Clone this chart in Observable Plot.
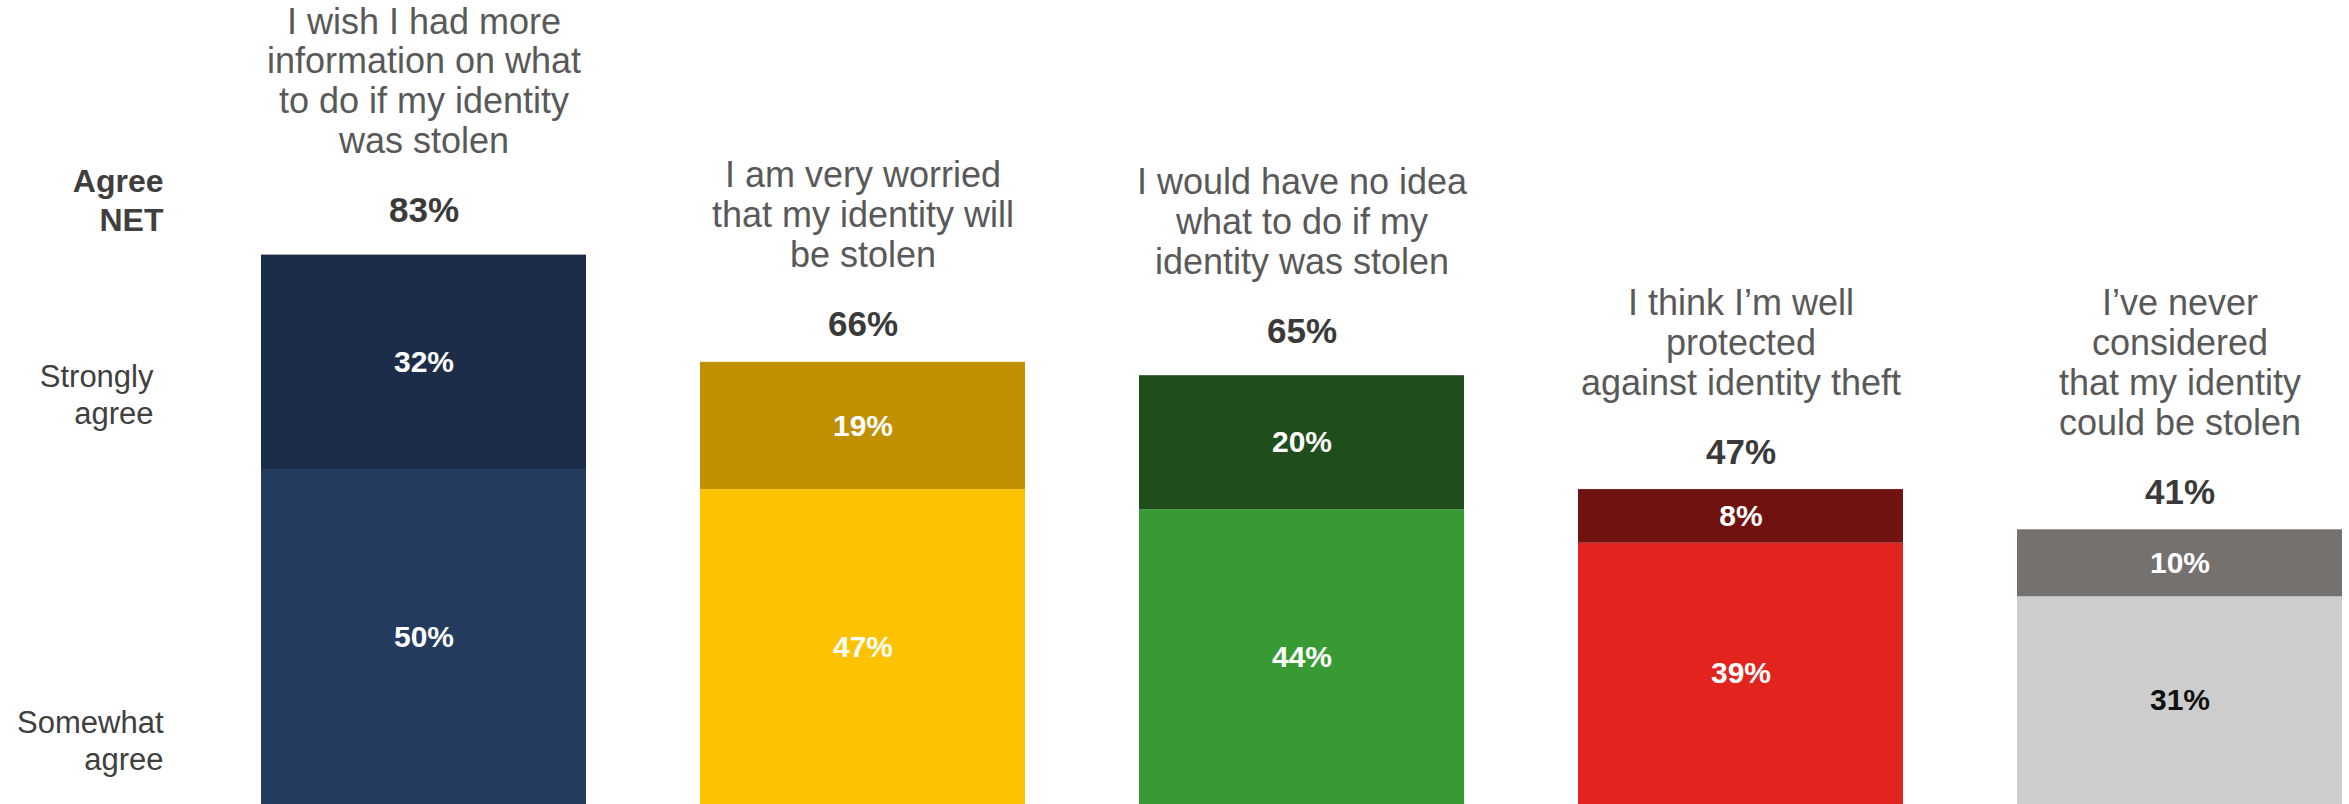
<!DOCTYPE html>
<html>
<head>
<meta charset="utf-8">
<script src="https://cdn.jsdelivr.net/npm/d3@7"></script>
<script src="https://cdn.jsdelivr.net/npm/@observablehq/plot@0.6"></script>
<style>
  html, body { margin: 0; padding: 0; background: #ffffff; }
  #chart svg { display: block; }
</style>
</head>
<body>
<div id="chart"></div>
<script>
// ---- Data ----
const categories = [
  "I wish I had more\ninformation on what\nto do if my identity\nwas stolen",
  "I am very worried\nthat my identity will\nbe stolen",
  "I would have no idea\nwhat to do if my\nidentity was stolen",
  "I think I\u2019m well\nprotected\nagainst identity theft",
  "I\u2019ve never\nconsidered\nthat my identity\ncould be stolen"
];
const stronglyAgree = [32, 19, 20, 8, 10];
const somewhatAgree = [50, 47, 44, 39, 31];
const agreeNet = [83, 66, 65, 47, 41];
const segments = ["Somewhat agree", "Strongly agree"];
const rowLabels = ["Agree\nNET", "Strongly\nagree", "Somewhat\nagree"];

// ---- Palette ----
const darkColors = ["#1c2d4a", "#c09000", "#1f4d1c", "#70120f", "#75716f"];
const lightColors = ["#223b5f", "#fdc300", "#389a33", "#e3241e", "#cecdce"];

const rows = categories.flatMap((c, i) => [
  {cat: c, i, seg: segments[0], value: somewhatAgree[i]},
  {cat: c, i, seg: segments[1], value: stronglyAgree[i]}
]);
const tops = categories.map((c, i) => ({cat: c, i, net: agreeNet[i]}));

const chart = Plot.plot({
  width: 2349,
  height: 804,
  marginTop: 134,
  marginBottom: 0,
  marginLeft: 259,
  marginRight: 6,
  style: {fontFamily: "'Liberation Sans', Arial, sans-serif", background: "#ffffff", overflow: "visible"},
  x: {domain: categories, paddingInner: 0.26, paddingOuter: 0, axis: null},
  y: {domain: [0, 100], axis: null},
  color: {type: "identity"},
  marks: [
    Plot.barY(rows, Plot.stackY({
      x: "cat", y: "value", z: "seg", order: segments,
      fill: d => (d.seg === segments[1] ? darkColors : lightColors)[d.i]
    })),
    Plot.text(rows, Plot.stackY({
      x: "cat", y: "value", z: "seg", order: segments,
      text: d => d.value + "%",
      fill: d => (d.i === 4 && d.seg === segments[0]) ? "#111111" : "#ffffff",
      fontSize: 30, fontWeight: "bold"
    })),
    Plot.text(tops, {
      x: "cat", y: "net", text: d => d.net + "%",
      lineAnchor: "bottom", dy: -26,
      fontSize: 35, fontWeight: "bold", fill: "#3a3a3a"
    }),
    Plot.text(tops, {
      x: "cat", y: "net", text: "cat",
      lineAnchor: "bottom", dy: -95, lineHeight: 1.11,
      fontSize: 36, fill: "#595959"
    }),
    Plot.text([rowLabels[0]], {
      frameAnchor: "top-left", text: d => d, textAnchor: "end",
      lineAnchor: "bottom", dx: -96, dy: 96, lineHeight: 1.19,
      fontSize: 32, fontWeight: "bold", fill: "#3f3f3f"
    }),
    Plot.text([rowLabels[1]], {
      frameAnchor: "top-left", text: d => d, textAnchor: "end",
      lineAnchor: "bottom", dx: -106, dy: 289, lineHeight: 1.17,
      fontSize: 31, fill: "#404040"
    }),
    Plot.text([rowLabels[2]], {
      frameAnchor: "top-left", text: d => d, textAnchor: "end",
      lineAnchor: "bottom", dx: -96, dy: 635, lineHeight: 1.17,
      fontSize: 31, fill: "#404040"
    })
  ]
});
document.getElementById("chart").appendChild(chart);
</script>
</body>
</html>
